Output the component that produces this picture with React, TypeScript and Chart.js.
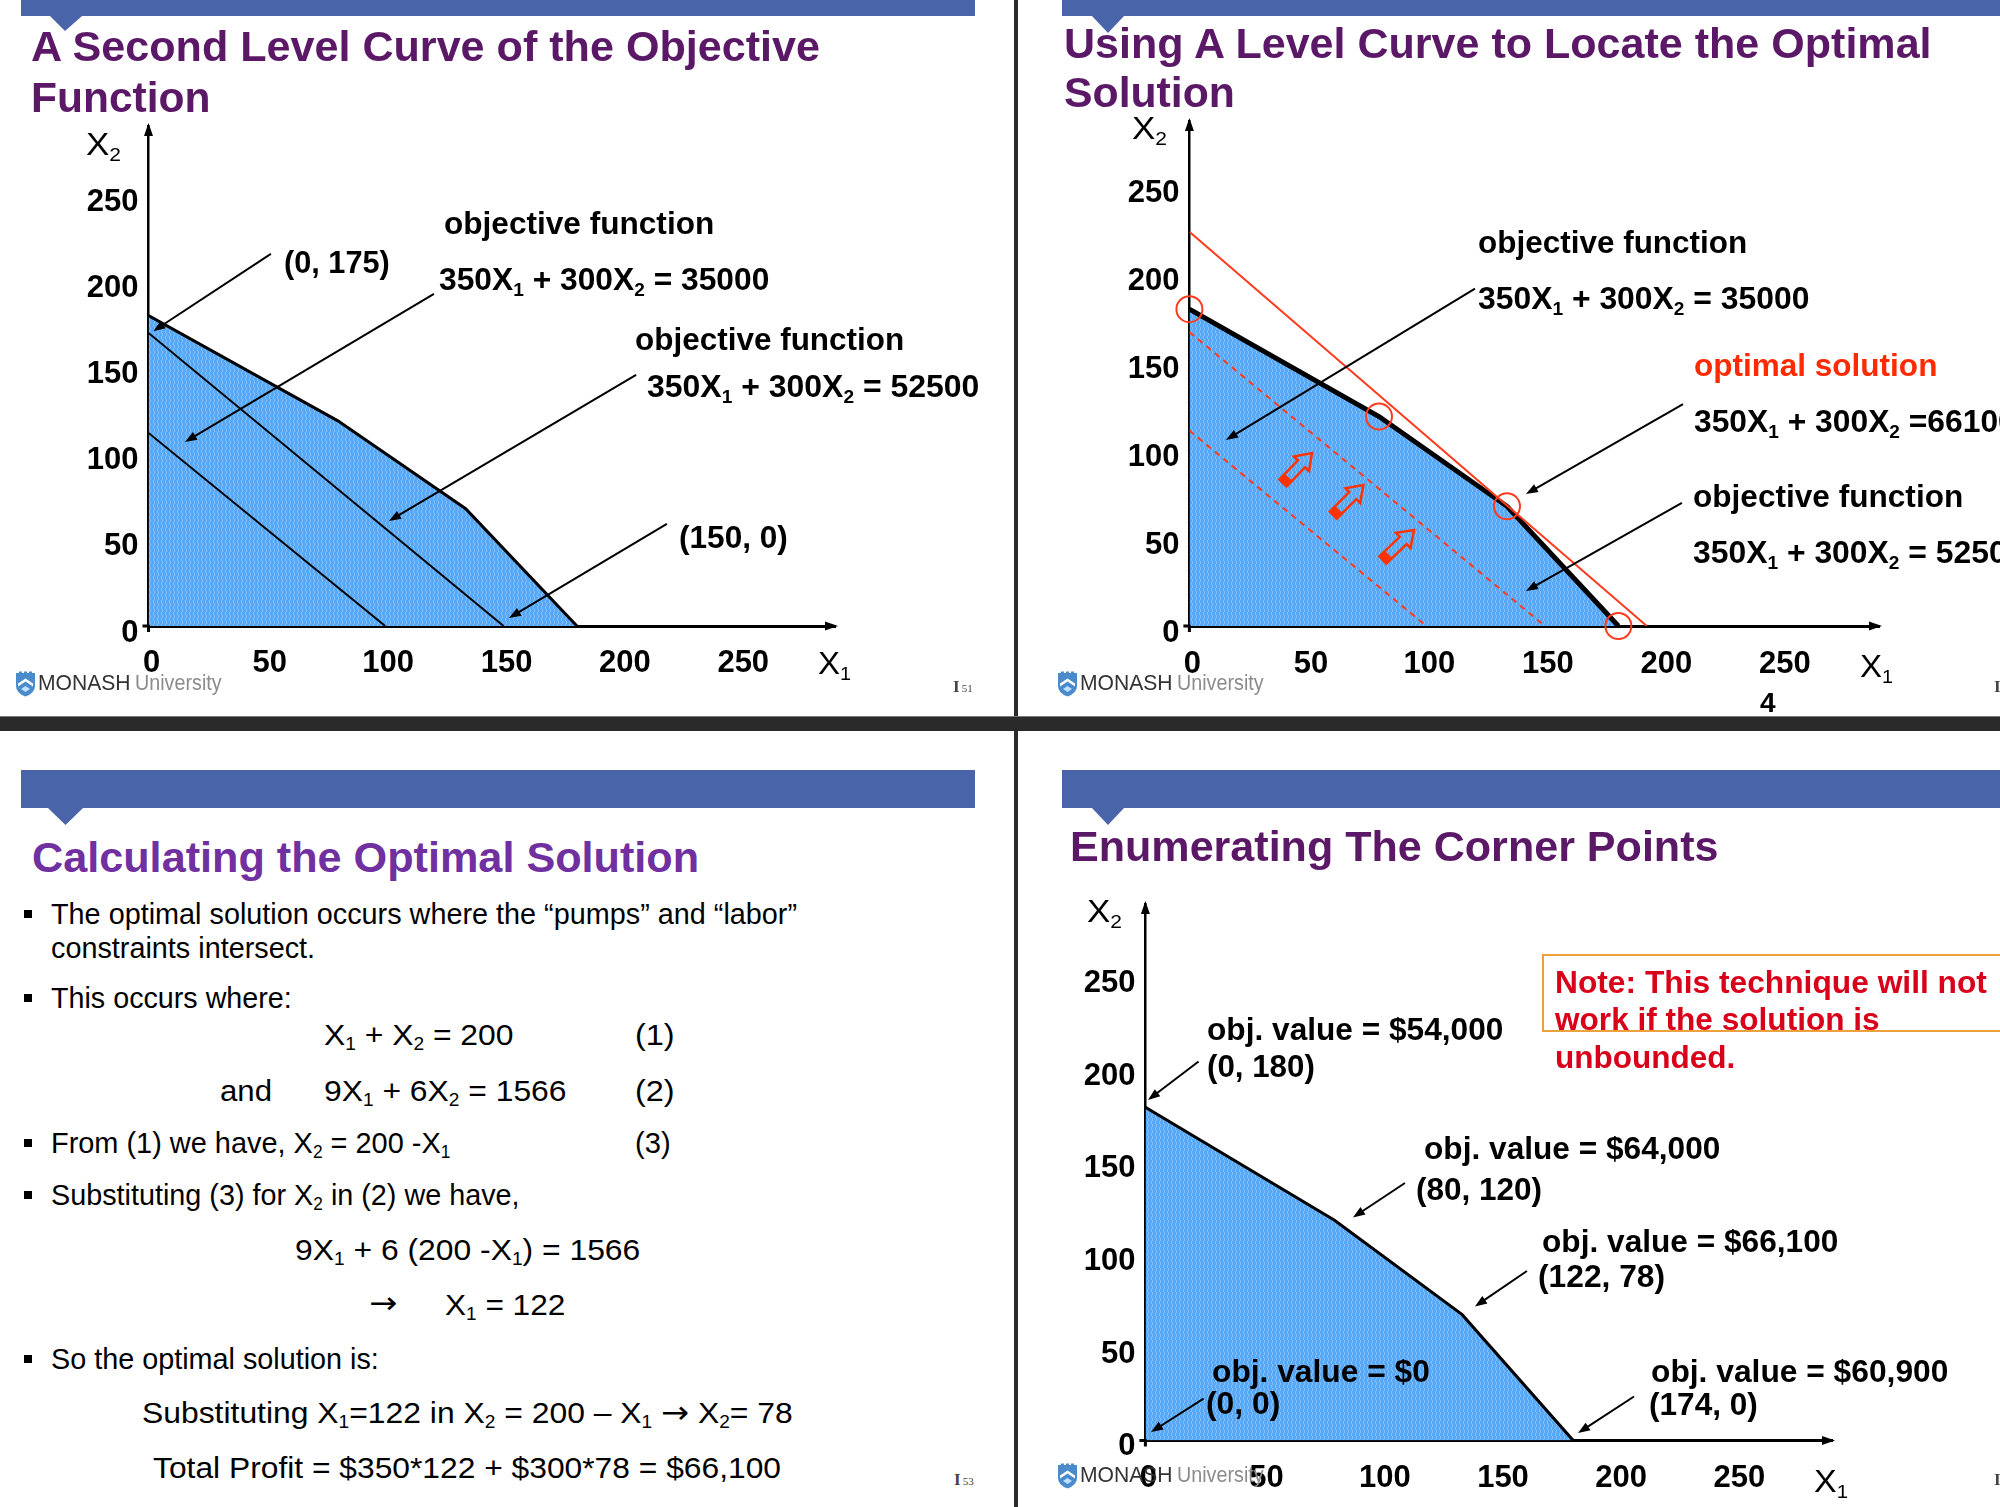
import React, { useEffect, useLayoutEffect, useRef } from 'react';
import { Chart, registerables } from 'chart.js';

Chart.register(...registerables);

const SANS = '"Liberation Sans", Arial, Helvetica, sans-serif';
const ARROW_FONT = '"DejaVu Sans", "Liberation Sans", sans-serif';

// ---------------- data ----------------
const X_TICKS = [0, 50, 100, 150, 200, 250];
const Y_TICKS = [0, 50, 100, 150, 200, 250];

// feasible region corner points as drawn (X1, X2)
const REGION_X1 = [0, 80, 134, 181];
const REGION_X2 = [180, 119, 68, 0];

// slide 1 level curves
const S1_LEVEL_35000_X1 = [0, 100];
const S1_LEVEL_35000_X2 = [112, 0];
const S1_LEVEL_52500_X1 = [0, 150];
const S1_LEVEL_52500_X2 = [170, 0];

// slide 2 level curves
const S2_LEVEL_35000_X1 = [0, 100];
const S2_LEVEL_35000_X2 = [111, 0];
const S2_LEVEL_52500_X1 = [0, 150];
const S2_LEVEL_52500_X2 = [167, 0];
const S2_OPTIMAL_X1 = [0, 193];
const S2_OPTIMAL_X2 = [224, 0];

// annotation arrows in data units: [tailX1, tailX2, headX1, headX2]
const S1_ARROWS = [
  [51.7, 215.8, 2, 171],
  [120.6, 192.6, 15.4, 106.7],
  [206, 145.6, 101.6, 60.9],
  [219, 59.2, 152.3, 4.6],
];
const S2_ARROWS = [
  [120.5, 191.7, 15.4, 105.7],
  [208.3, 126.1, 142, 75],
  [207.8, 70, 142, 19.9],
];
const S2_MOVE_ARROWS = [
  [39.5, 81.3, 51.7, 98.3],
  [60.7, 63, 73.4, 80.1],
  [81.6, 37.5, 94.8, 54.5],
];
const S4_ARROWS = [
  [22.5, 204.7, 1.1, 183.9],
  [109.8, 139.1, 87.8, 120.5],
  [161.4, 91.6, 139.4, 72.4],
  [24.6, 22.7, 2.4, 4.6],
  [206.7, 23.8, 183, 4.1],
];

// ---------------- helpers ----------------
const pts = (xs: number[], ys: number[]) => xs.map((x, i) => ({ x, y: ys[i] }));

function makePattern(ctx: CanvasRenderingContext2D) {
  const c = document.createElement('canvas');
  c.width = 4;
  c.height = 6;
  const g = c.getContext('2d')!;
  g.fillStyle = '#57a9f7';
  g.fillRect(0, 0, 4, 6);
  g.fillStyle = '#80bffb';
  g.fillRect(1, 0, 1, 3);
  g.fillRect(2, 3, 1, 3);
  return ctx.createPattern(c, 'repeat')!;
}

function tri(ctx: CanvasRenderingContext2D, tx: number, ty: number, ux: number, uy: number, len: number, hw: number) {
  const nx = -uy, ny = ux;
  ctx.beginPath();
  ctx.moveTo(tx, ty);
  ctx.lineTo(tx - ux * len + nx * hw, ty - uy * len + ny * hw);
  ctx.lineTo(tx - ux * len - nx * hw, ty - uy * len - ny * hw);
  ctx.closePath();
  ctx.fill();
}

function lineArrow(ctx: CanvasRenderingContext2D, x1: number, y1: number, x2: number, y2: number) {
  const dx = x2 - x1, dy = y2 - y1, L = Math.hypot(dx, dy);
  const ux = dx / L, uy = dy / L;
  ctx.beginPath();
  ctx.moveTo(x1, y1);
  ctx.lineTo(x2 - ux * 9, y2 - uy * 9);
  ctx.stroke();
  tri(ctx, x2, y2, ux, uy, 12, 4.5);
}

function blockArrow(ctx: CanvasRenderingContext2D, x1: number, y1: number, x2: number, y2: number) {
  const dx = x2 - x1, dy = y2 - y1, L = Math.hypot(dx, dy);
  const ux = dx / L, uy = dy / L, nx = -uy, ny = ux;
  const sw = 5, hw = 10.5, hl = 15;
  const P = (a: number, b: number) => [x1 + ux * a + nx * b, y1 + uy * a + ny * b];
  const outline = [P(0, -sw), P(L - hl, -sw), P(L - hl, -hw), P(L, 0), P(L - hl, hw), P(L - hl, sw), P(0, sw)];
  ctx.beginPath();
  outline.forEach(([px, py], i) => (i ? ctx.lineTo(px, py) : ctx.moveTo(px, py)));
  ctx.closePath();
  ctx.lineWidth = 2.5;
  ctx.strokeStyle = '#ff3300';
  ctx.stroke();
  const base = [P(0, -sw), P(8, -sw), P(8, sw), P(0, sw)];
  ctx.beginPath();
  base.forEach(([px, py], i) => (i ? ctx.lineTo(px, py) : ctx.moveTo(px, py)));
  ctx.closePath();
  ctx.fillStyle = '#ff3300';
  ctx.fill();
}

type Area = { l: number; r: number; t: number; b: number };

interface ChartProps {
  left: number;
  top: number;
  width: number;
  height: number;
  area: Area;
  xPx: number; // pixels per unit
  yPx: number;
  xPad: number;
  yOff: number;
  datasets: (pattern: CanvasPattern) => any[];
  arrows: number[][];
  moveArrows?: number[][];
}

const TICK_FONT = { family: SANS, size: 31, weight: 'bold' as const, lineHeight: 1.2 };

function LPChart(p: ChartProps) {
  const ref = useRef<HTMLCanvasElement>(null);
  useEffect(() => {
    const canvas = ref.current!;
    const ctx = canvas.getContext('2d')!;
    const pattern = makePattern(ctx);
    const xmax = (p.area.r - p.area.l) / p.xPx;
    const ymax = (p.area.b - p.area.t) / p.yPx;
    const decor = {
      id: 'decor',
      afterDraw(chart: any) {
        const c: CanvasRenderingContext2D = chart.ctx;
        const a = chart.chartArea;
        const xs = chart.scales.x, ys = chart.scales.y;
        c.save();
        c.strokeStyle = '#000';
        c.fillStyle = '#000';
        c.lineWidth = 3;
        c.beginPath();
        c.moveTo(a.left - 6, a.bottom);
        c.lineTo(a.left + 1, a.bottom);
        c.moveTo(a.left, a.bottom - 1);
        c.lineTo(a.left, a.bottom + 6);
        c.stroke();
        tri(c, a.right + 3, a.bottom, 1, 0, 13, 4.5);
        tri(c, a.left, a.top - 3, 0, -1, 13, 4.5);
        c.lineWidth = 2;
        for (const [tx, ty, hx, hy] of p.arrows) {
          lineArrow(c, xs.getPixelForValue(tx), ys.getPixelForValue(ty), xs.getPixelForValue(hx), ys.getPixelForValue(hy));
        }
        for (const [tx, ty, hx, hy] of p.moveArrows || []) {
          blockArrow(c, xs.getPixelForValue(tx), ys.getPixelForValue(ty), xs.getPixelForValue(hx), ys.getPixelForValue(hy));
        }
        c.restore();
      },
    };
    const chart = new Chart(ctx, {
      type: 'scatter',
      data: { datasets: p.datasets(pattern) },
      options: {
        responsive: false,
        animation: false,
        events: [],
        layout: { padding: { left: 0, top: p.area.t, right: p.width - p.area.r, bottom: 0 } },
        plugins: { legend: { display: false }, tooltip: { enabled: false } },
        scales: {
          x: {
            type: 'linear',
            min: 0,
            max: xmax,
            z: 1,
            grid: { display: false, drawTicks: false },
            border: { display: true, color: '#000', width: 3 },
            ticks: {
              stepSize: 50,
              includeBounds: false,
              autoSkip: false,
              maxRotation: 0,
              padding: p.xPad,
              labelOffset: 3,
              color: '#000',
              font: TICK_FONT,
              callback: (v: any) => (X_TICKS.includes(v) ? String(v) : null),
            },
            afterFit: (s: any) => {
              s.height = p.height - p.area.b;
            },
          },
          y: {
            type: 'linear',
            min: 0,
            max: ymax,
            z: 1,
            grid: { display: false, drawTicks: false },
            border: { display: true, color: '#000', width: 2.5 },
            ticks: {
              stepSize: 50,
              includeBounds: false,
              autoSkip: false,
              padding: 10,
              labelOffset: p.yOff,
              color: '#000',
              font: TICK_FONT,
              callback: (v: any) => (Y_TICKS.includes(v) ? String(v) : null),
            },
            afterFit: (s: any) => {
              s.width = p.area.l;
            },
          },
        },
      } as any,
      plugins: [decor],
    });
    return () => chart.destroy();
  }, []);
  return (
    <canvas
      ref={ref}
      width={p.width}
      height={p.height}
      style={{ position: 'absolute', left: p.left, top: p.top, width: p.width, height: p.height }}
    />
  );
}

// ---------------- text ----------------
interface TxtProps {
  x: number;
  cy: number;
  w?: number;
  fs?: number;
  bold?: boolean;
  color?: string;
  children: React.ReactNode;
  family?: string;
}

function Txt({ x, cy, w, fs = 31, bold = true, color = '#000', children, family = SANS }: TxtProps) {
  const ref = useRef<HTMLDivElement>(null);
  useLayoutEffect(() => {
    const el = ref.current;
    if (!el || !w) return;
    const nat = el.offsetWidth;
    if (nat > 0) el.style.transform = `scaleX(${w / nat})`;
  }, [w]);
  return (
    <div
      ref={ref}
      style={{
        position: 'absolute',
        left: x,
        top: cy - fs / 2,
        fontSize: fs,
        lineHeight: 1,
        fontWeight: bold ? 700 : 400,
        fontFamily: family,
        color,
        whiteSpace: 'nowrap',
        transformOrigin: '0 50%',
      }}
    >
      {children}
    </div>
  );
}

const subStyle: React.CSSProperties = { fontSize: '0.6em', verticalAlign: '-0.3em', lineHeight: 0 };
const S = (t: string) => <span style={subStyle}>{t}</span>;
const ARR = <span style={{ fontFamily: ARROW_FONT, fontSize: '1.05em', lineHeight: 0 }}>→</span>;

function Logo({ x, cy }: { x: number; cy: number }) {
  return (
    <>
      <svg
        width={21}
        height={26}
        viewBox="0 0 21 26"
        style={{ position: 'absolute', left: x, top: cy - 12 }}
      >
        <path d="M1 2 H4 V0.5 H7 V2 H9 V0.5 H12 V2 H14 V0.5 H17 V2 H20 V15 Q20 22 10.5 25.5 Q1 22 1 15 Z" fill="#4a8bcc" />
        <path d="M3 12.5 L10.5 7.5 L18 12.5 L18 15.5 L10.5 10.5 L3 15.5 Z" fill="#ffffff" />
        <path d="M6 18 L10.5 15 L15 18 L10.5 21 Z" fill="#bfe0ff" />
      </svg>
      <Txt x={x + 23} cy={cy} w={93} fs={22} bold={false} color="#333333">
        MONASH
      </Txt>
      <Txt x={x + 120} cy={cy} w={87} fs={22} bold={false} color="#8c8c8c">
        University
      </Txt>
    </>
  );
}

function PageNo({ x, cy, n }: { x: number; cy: number; n: string }) {
  return (
    <div
      style={{
        position: 'absolute',
        left: x,
        top: cy - 9,
        height: 18,
        lineHeight: '18px',
        fontFamily: '"Liberation Serif", serif',
        color: '#444',
        whiteSpace: 'nowrap',
      }}
    >
      <span style={{ fontSize: 17, fontWeight: 700 }}>I</span>
      <span style={{ fontSize: 11, marginLeft: 2 }}>{n}</span>
    </div>
  );
}

const TITLE_DARK = '#5a1866';
const TITLE_VIOLET = '#7030a0';

function Bullet({ cy }: { cy: number }) {
  return <div style={{ position: 'absolute', left: 24, top: cy - 4, width: 8, height: 8, background: '#000' }} />;
}

// ---------------- app ----------------
export default function App() {
  return (
    <div
      style={{
        position: 'absolute',
        left: 0,
        top: 0,
        width: 2000,
        height: 1507,
        overflow: 'hidden',
        background: '#ffffff',
        fontFamily: SANS,
      }}
    >
      {/* banners, dividers, boxes */}
      <svg width={2000} height={1507} style={{ position: 'absolute', left: 0, top: 0 }}>
        <rect x={21} y={-22} width={954} height={38} fill="#4964a9" />
        <polygon points="50,16 82,16 65,31" fill="#4964a9" />
        <rect x={1062} y={-22} width={960} height={38} fill="#4964a9" />
        <polygon points="1092,16 1124,16 1108,33" fill="#4964a9" />
        <rect x={21} y={770} width={954} height={38} fill="#4964a9" />
        <polygon points="48,808 83,808 65.5,825" fill="#4964a9" />
        <rect x={1062} y={770} width={960} height={38} fill="#4964a9" />
        <polygon points="1092,808 1124,808 1108,825" fill="#4964a9" />
        <rect x={1014} y={0} width={4} height={1507} fill="#2a2a2a" />
        <rect x={0} y={716} width={2000} height={15} fill="#2a2a2a" />
        <rect x={0} y={716} width={2000} height={1} fill="#777" />
        <rect x={1543} y={955} width={480} height={76} fill="none" stroke="#eea03c" strokeWidth={2} />
      </svg>

      {/* ---------- slide 1 ---------- */}
      <LPChart
        left={0}
        top={0}
        width={1014}
        height={716}
        area={{ l: 148.5, r: 835, t: 126, b: 626 }}
        xPx={2.367}
        yPx={1.724}
        xPad={18.4}
        yOff={7}
        arrows={S1_ARROWS}
        datasets={(pattern) => [
          { data: pts(S1_LEVEL_35000_X1, S1_LEVEL_35000_X2), showLine: true, borderColor: '#000', borderWidth: 2, pointRadius: 0 },
          { data: pts(S1_LEVEL_52500_X1, S1_LEVEL_52500_X2), showLine: true, borderColor: '#000', borderWidth: 2, pointRadius: 0 },
          { data: pts(REGION_X1, REGION_X2), showLine: true, fill: 'origin', backgroundColor: pattern, borderColor: '#000', borderWidth: 3, pointRadius: 0 },
        ]}
      />
      <Txt x={31} cy={46.5} w={789} fs={43} color={TITLE_DARK}>A Second Level Curve of the Objective</Txt>
      <Txt x={31} cy={97} w={180} fs={43} color={TITLE_DARK}>Function</Txt>
      <Txt x={86} cy={144} w={35} fs={32} bold={false}>X{S('2')}</Txt>
      <Txt x={818} cy={663} w={33} fs={32} bold={false}>X{S('1')}</Txt>
      <Txt x={284} cy={262} w={106}>(0, 175)</Txt>
      <Txt x={444} cy={223} w={270}>objective function</Txt>
      <Txt x={439} cy={279} w={330}>350X{S('1')} + 300X{S('2')} = 35000</Txt>
      <Txt x={635} cy={339} w={269}>objective function</Txt>
      <Txt x={647} cy={386} w={332}>350X{S('1')} + 300X{S('2')} = 52500</Txt>
      <Txt x={679} cy={537} w={109}>(150, 0)</Txt>
      <Logo x={15} cy={683} />
      <PageNo x={953} cy={687} n="51" />

      {/* ---------- slide 2 ---------- */}
      <LPChart
        left={1018}
        top={0}
        width={982}
        height={716}
        area={{ l: 171.4, r: 861, t: 121, b: 626 }}
        xPx={2.37}
        yPx={1.76}
        xPad={19.4}
        yOff={7}
        arrows={S2_ARROWS}
        moveArrows={S2_MOVE_ARROWS}
        datasets={(pattern) => [
          {
            data: pts(REGION_X1, REGION_X2),
            showLine: false,
            pointRadius: 13,
            pointBorderColor: '#ff3b1f',
            pointBackgroundColor: 'rgba(0,0,0,0)',
            pointBorderWidth: 2,
            clip: false,
          },
          { data: pts(S2_OPTIMAL_X1, S2_OPTIMAL_X2), showLine: true, borderColor: '#ff3b1f', borderWidth: 2, pointRadius: 0 },
          { data: pts(S2_LEVEL_35000_X1, S2_LEVEL_35000_X2), showLine: true, borderColor: '#ff3b1f', borderWidth: 2, borderDash: [6, 5], pointRadius: 0 },
          { data: pts(S2_LEVEL_52500_X1, S2_LEVEL_52500_X2), showLine: true, borderColor: '#ff3b1f', borderWidth: 2, borderDash: [6, 5], pointRadius: 0 },
          { data: pts(REGION_X1, REGION_X2), showLine: true, fill: 'origin', backgroundColor: pattern, borderColor: '#000', borderWidth: 5, pointRadius: 0 },
        ]}
      />
      <Txt x={1064} cy={43} w={868} fs={43} color={TITLE_DARK}>Using A Level Curve to Locate the Optimal</Txt>
      <Txt x={1064} cy={92} w={171} fs={43} color={TITLE_DARK}>Solution</Txt>
      <Txt x={1132} cy={128} w={35} fs={32} bold={false}>X{S('2')}</Txt>
      <Txt x={1860} cy={666} w={33} fs={32} bold={false}>X{S('1')}</Txt>
      <Txt x={1760} cy={703} fs={28}>4</Txt>
      <Txt x={1478} cy={242} w={269}>objective function</Txt>
      <Txt x={1478} cy={298} w={331}>350X{S('1')} + 300X{S('2')} = 35000</Txt>
      <Txt x={1694} cy={365} w={243} color="#ff2a00">optimal solution</Txt>
      <Txt x={1694} cy={421} w={322}>350X{S('1')} + 300X{S('2')} =66100</Txt>
      <Txt x={1693} cy={496} w={270}>objective function</Txt>
      <Txt x={1693} cy={552} w={331}>350X{S('1')} + 300X{S('2')} = 52500</Txt>
      <Logo x={1057} cy={683} />
      <PageNo x={1994} cy={687} n="52" />

      {/* ---------- slide 3 ---------- */}
      <Txt x={32} cy={857} w={667} fs={43} color={TITLE_VIOLET}>Calculating the Optimal Solution</Txt>
      <Bullet cy={913.5} />
      <Txt x={51} cy={913.5} w={746} fs={30} bold={false}>The optimal solution occurs where the “pumps” and “labor”</Txt>
      <Txt x={51} cy={947.5} w={264} fs={30} bold={false}>constraints intersect.</Txt>
      <Bullet cy={997.5} />
      <Txt x={51} cy={997.5} w={241} fs={30} bold={false}>This occurs where:</Txt>
      <Txt x={323.5} cy={1035} w={190} fs={30} bold={false}>X{S('1')} + X{S('2')} = 200</Txt>
      <Txt x={634.5} cy={1035} w={40} fs={30} bold={false}>(1)</Txt>
      <Txt x={219.5} cy={1090.5} w={52} fs={30} bold={false}>and</Txt>
      <Txt x={323.5} cy={1090.5} w={243} fs={30} bold={false}>9X{S('1')} + 6X{S('2')} = 1566</Txt>
      <Txt x={634.5} cy={1090.5} w={40} fs={30} bold={false}>(2)</Txt>
      <Bullet cy={1143} />
      <Txt x={51} cy={1143} w={399} fs={30} bold={false}>From (1) we have, X{S('2')} = 200 -X{S('1')}</Txt>
      <Txt x={634.5} cy={1143} w={36} fs={30} bold={false}>(3)</Txt>
      <Bullet cy={1195} />
      <Txt x={51} cy={1195} w={469} fs={30} bold={false}>Substituting (3) for X{S('2')} in (2) we have,</Txt>
      <Txt x={294.6} cy={1249.5} w={345} fs={30} bold={false}>9X{S('1')} + 6 (200 -X{S('1')}) = 1566</Txt>
      <Txt x={369} cy={1303} w={28} fs={30} bold={false} family={ARROW_FONT}>→</Txt>
      <Txt x={444.5} cy={1304.5} w={120} fs={30} bold={false}>X{S('1')} = 122</Txt>
      <Bullet cy={1358.5} />
      <Txt x={51} cy={1358.5} w={328} fs={30} bold={false}>So the optimal solution is:</Txt>
      <Txt x={141.6} cy={1413} w={651} fs={30} bold={false}>
        Substituting X{S('1')}=122 in X{S('2')} = 200 – X{S('1')} {ARR} X{S('2')}= 78
      </Txt>
      <Txt x={153} cy={1467.5} w={628} fs={30} bold={false}>Total Profit = $350*122 + $300*78 = $66,100</Txt>
      <PageNo x={954} cy={1480} n="53" />

      {/* ---------- slide 4 ---------- */}
      <LPChart
        left={1018}
        top={731}
        width={982}
        height={776}
        area={{ l: 127.4, r: 814, t: 173, b: 709.6 }}
        xPx={2.364}
        yPx={1.852}
        xPad={19.4}
        yOff={6}
        arrows={S4_ARROWS}
        datasets={(pattern) => [
          { data: pts(REGION_X1, REGION_X2), showLine: true, fill: 'origin', backgroundColor: pattern, borderColor: '#000', borderWidth: 3, pointRadius: 0 },
        ]}
      />
      <Txt x={1070} cy={846.5} w={648} fs={43} color={TITLE_DARK}>Enumerating The Corner Points</Txt>
      <Txt x={1087} cy={911} w={35} fs={32} bold={false}>X{S('2')}</Txt>
      <Txt x={1814} cy={1481} w={34} fs={32} bold={false}>X{S('1')}</Txt>
      <Txt x={1555} cy={982} w={432} color="#d9001a">Note: This technique will not</Txt>
      <Txt x={1555} cy={1019} w={325} color="#d9001a">work if the solution is</Txt>
      <Txt x={1555} cy={1057.5} w={180} color="#d9001a">unbounded.</Txt>
      <Txt x={1207} cy={1029.5} w={296}>obj. value = $54,000</Txt>
      <Txt x={1207} cy={1066.5} w={108}>(0, 180)</Txt>
      <Txt x={1424} cy={1148} w={296}>obj. value = $64,000</Txt>
      <Txt x={1416} cy={1189} w={126}>(80, 120)</Txt>
      <Txt x={1542} cy={1241} w={296}>obj. value = $66,100</Txt>
      <Txt x={1538} cy={1276} w={127}>(122, 78)</Txt>
      <Txt x={1212} cy={1371.5} w={218}>obj. value = $0</Txt>
      <Txt x={1206} cy={1403.5} w={74}>(0, 0)</Txt>
      <Txt x={1650.5} cy={1371.5} w={297}>obj. value = $60,900</Txt>
      <Txt x={1648.5} cy={1404} w={109}>(174, 0)</Txt>
      <Logo x={1057} cy={1475} />
      <PageNo x={1994} cy={1480} n="54" />
    </div>
  );
}
